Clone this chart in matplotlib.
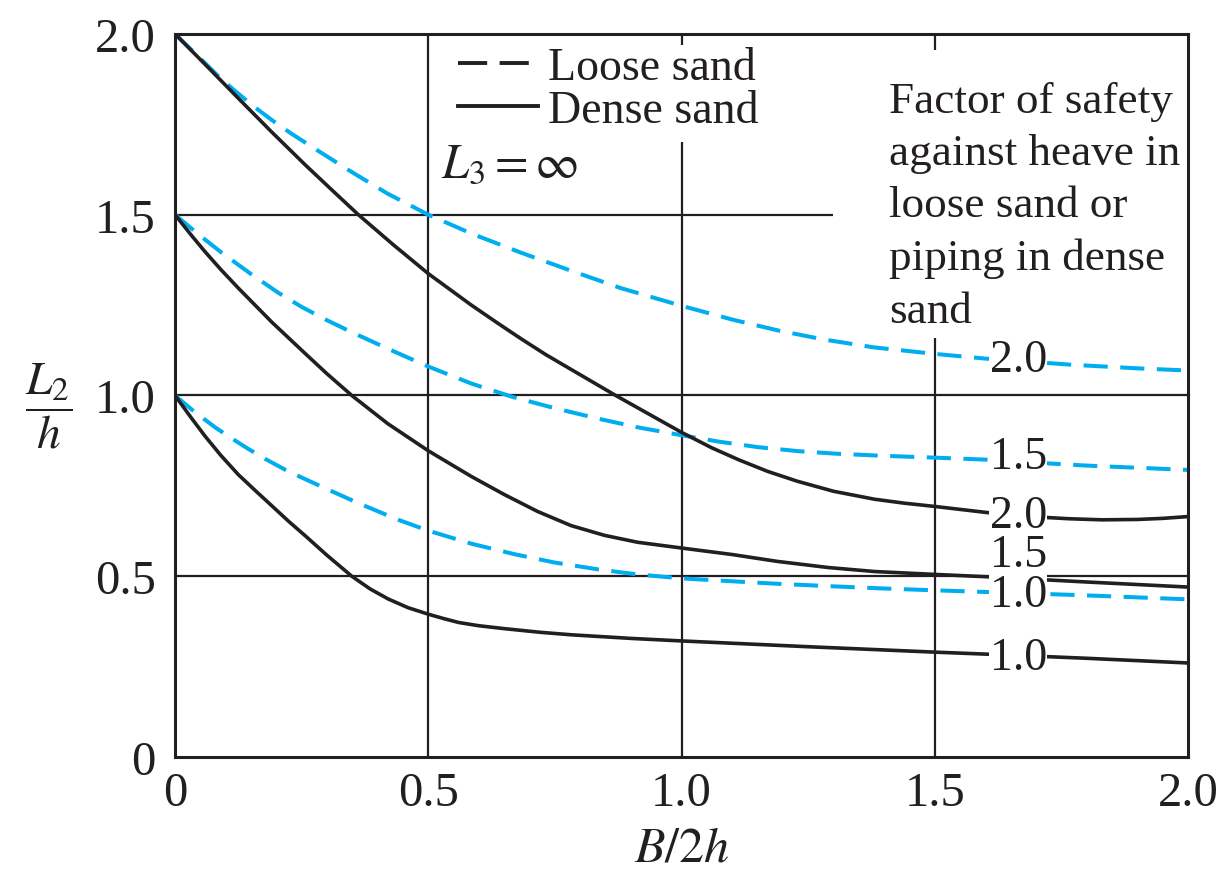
import numpy as np
import matplotlib as mpl
import matplotlib.pyplot as plt
from matplotlib.lines import Line2D

# Curves of L2/h against B/2h for each factor of safety
loose_20_x = [0, 0.05, 0.09, 0.118, 0.155, 0.191, 0.23, 0.27, 0.342, 0.42, 0.5, 0.585, 0.683, 0.782, 0.88,
              1.0, 1.1, 1.19, 1.28, 1.38, 1.5, 1.6, 1.77, 1.9, 2.0]
loose_20_y = [2.0, 1.932, 1.877, 1.843, 1.80, 1.762, 1.724, 1.688, 1.624, 1.558, 1.5, 1.448, 1.395, 1.345, 1.297,
              1.248, 1.21, 1.18, 1.155, 1.133, 1.115, 1.102, 1.085, 1.075, 1.069]

dense_20_x = [0, 0.06, 0.125, 0.19, 0.257, 0.31, 0.362, 0.43, 0.5, 0.585, 0.635, 0.683, 0.732, 0.782, 0.87, 0.94,
              1.0, 1.06, 1.113, 1.17, 1.228, 1.3, 1.381, 1.44, 1.5, 1.604, 1.70, 1.765, 1.83, 1.90, 1.95, 2.0]
dense_20_y = [2.0, 1.915, 1.822, 1.73, 1.638, 1.568, 1.5, 1.418, 1.337, 1.25, 1.202, 1.157, 1.113, 1.072, 1.0, 0.945,
              0.898, 0.855, 0.822, 0.79, 0.763, 0.735, 0.713, 0.702, 0.693, 0.676, 0.664, 0.659, 0.656, 0.657, 0.66, 0.665]

loose_15_x = [0, 0.045, 0.092, 0.15, 0.204, 0.25, 0.3, 0.352, 0.427, 0.5, 0.585, 0.664, 0.749, 0.835, 0.913,
              1.0, 1.075, 1.151, 1.23, 1.304, 1.4, 1.5, 1.61, 1.7, 1.8, 2.0]
loose_15_y = [1.5, 1.447, 1.395, 1.336, 1.284, 1.245, 1.208, 1.173, 1.125, 1.08, 1.033, 0.997, 0.965, 0.936, 0.912,
              0.89, 0.872, 0.857, 0.846, 0.839, 0.833, 0.828, 0.822, 0.814, 0.806, 0.794]

dense_15_x = [0, 0.03, 0.059, 0.09, 0.125, 0.191, 0.257, 0.3, 0.349, 0.42, 0.5, 0.585, 0.65, 0.716, 0.782,
              0.848, 0.913, 1.0, 1.1, 1.189, 1.29, 1.381, 1.5, 1.611, 1.8, 2.0]
dense_15_y = [1.5, 1.447, 1.398, 1.349, 1.297, 1.203, 1.116, 1.06, 1.0, 0.922, 0.847, 0.776, 0.726, 0.679, 0.64,
              0.613, 0.594, 0.578, 0.56, 0.541, 0.524, 0.513, 0.505, 0.498, 0.484, 0.47]

loose_10_x = [0, 0.04, 0.079, 0.11, 0.145, 0.18, 0.217, 0.25, 0.289, 0.362, 0.441, 0.5, 0.585, 0.67, 0.749,
              0.835, 0.913, 1.0, 1.1, 1.19, 1.3, 1.4, 1.5, 1.61, 1.8, 2.0]
loose_10_y = [1.0, 0.953, 0.912, 0.883, 0.852, 0.823, 0.795, 0.773, 0.748, 0.702, 0.656, 0.626, 0.59, 0.561, 0.538,
              0.519, 0.505, 0.494, 0.486, 0.479, 0.472, 0.466, 0.461, 0.456, 0.447, 0.436]

dense_10_x = [0, 0.03, 0.059, 0.09, 0.125, 0.16, 0.191, 0.225, 0.257, 0.3, 0.349, 0.385, 0.421, 0.46, 0.5,
              0.53, 0.56, 0.6, 0.65, 0.72, 0.782, 0.9, 1.0, 1.25, 1.5, 1.61, 1.8, 2.0]
dense_10_y = [1.0, 0.942, 0.888, 0.835, 0.781, 0.735, 0.695, 0.651, 0.612, 0.558, 0.5, 0.465, 0.437, 0.413, 0.395,
              0.383, 0.372, 0.363, 0.355, 0.345, 0.338, 0.328, 0.321, 0.305, 0.29, 0.284, 0.273, 0.26]

# curve labels: (text, x, y)
curve_labels = [("2.0", 1.665, 1.10), ("1.5", 1.665, 0.83), ("2.0", 1.665, 0.668),
                ("1.5", 1.665, 0.56), ("1.0", 1.665, 0.45), ("1.0", 1.665, 0.275)]

ticks = [0, 0.5, 1.0, 1.5, 2.0]
tick_labels = ["0", "0.5", "1.0", "1.5", "2.0"]

BLUE = "#00aeef"
INK = "#231f20"

plt.rcParams['font.family'] = ['Liberation Serif', 'DejaVu Serif']
plt.rcParams['mathtext.fontset'] = 'stix'

fig = plt.figure(figsize=(12.23, 8.78), dpi=100)
ax = fig.add_axes([0.1431, 0.1367, 0.8283, 0.8235])
ax.set_xlim(0, 2.0)
ax.set_ylim(0, 2.0)

# grid drawn as segments so it stops around the annotations
ax.hlines([0.5, 1.0], 0, 2.0, color=INK, lw=1.6, zorder=1)
ax.hlines(1.5, 0, 1.3, color=INK, lw=1.6, zorder=1)
ax.vlines(0.5, 0, 2.0, color=INK, lw=1.6, zorder=1)
ax.vlines([1.0, 1.0], [0, 1.97], [1.70, 2.0], color=INK, lw=1.6, zorder=1)
ax.vlines([1.5, 1.5], [0, 1.955], [1.16, 2.0], color=INK, lw=1.6, zorder=1)

dash = (6.0, 3.1)
for xs, ys in [(loose_20_x, loose_20_y), (loose_15_x, loose_15_y), (loose_10_x, loose_10_y)]:
    ax.plot(xs, ys, color=BLUE, lw=2.9, dashes=dash, zorder=2, solid_joinstyle='round')
for xs, ys in [(dense_20_x, dense_20_y), (dense_15_x, dense_15_y), (dense_10_x, dense_10_y)]:
    ax.plot(xs, ys, color=INK, lw=2.6, zorder=3, solid_joinstyle='round')

for txt, x, y in curve_labels:
    ax.text(x, y, txt, fontsize=33, color=INK, ha='center', va='center', zorder=5,
            bbox=dict(facecolor='white', edgecolor='none', pad=0.2))

ax.text(0.525, 1.64, r'$L_3 = \infty$', fontsize=35, color=INK, ha='left', va='center', zorder=5)
ax.text(1.41, 1.525, "Factor of safety\nagainst heave in\nloose sand or\npiping in dense\nsand",
        fontsize=32.5, color=INK, ha='left', va='center', linespacing=1.4, zorder=5)

handles = [Line2D([], [], color=INK, lw=2.8, dashes=(7.5, 3.2)),
           Line2D([], [], color=INK, lw=2.8)]
leg = ax.legend(handles, ["Loose sand", "Dense sand"], loc='upper left',
                bbox_to_anchor=(0.279, 0.983), fontsize=33, frameon=False,
                handlelength=1.75, handletextpad=0.22, labelspacing=0.02,
                borderpad=0.0, borderaxespad=0)
for t in leg.get_texts():
    t.set_color(INK)

ax.set_xticks(ticks, labels=tick_labels)
ax.set_yticks(ticks, labels=tick_labels)
ax.tick_params(length=0, labelsize=35, colors=INK)
ax.tick_params(axis='x', pad=10)
ax.tick_params(axis='y', pad=14)
for s in ax.spines.values():
    s.set_linewidth(2.2)
    s.set_color(INK)
    s.set_zorder(6)

ax.set_xlabel(r'$B/2h$', fontsize=36, color=INK, labelpad=7)
fig.text(0.04, 0.537, r'$\dfrac{L_2}{h}$', fontsize=34, color=INK, ha='center', va='center')

fig.savefig("out.png", dpi=100)
